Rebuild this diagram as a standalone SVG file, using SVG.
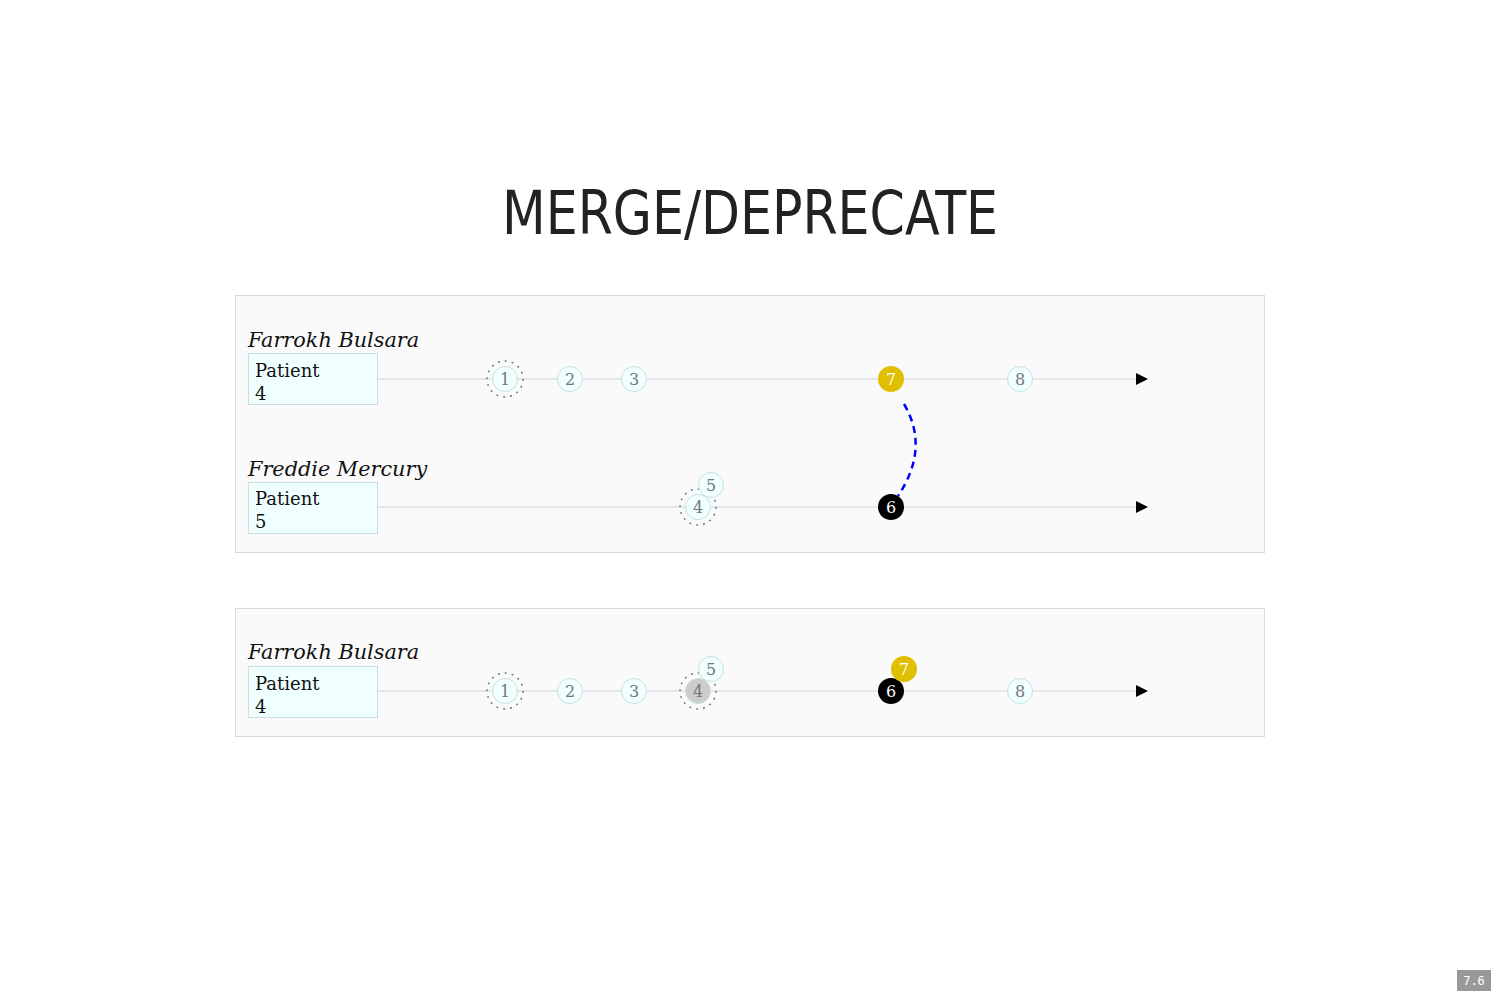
<svg xmlns="http://www.w3.org/2000/svg" width="1500" height="1000" viewBox="0 0 1500 1000">
<defs>
<style>
.panel{fill:#fafafa;stroke:#d9d9d9;stroke-width:1}
.name{font-family:"DejaVu Serif",serif;font-style:italic;font-size:20.8px;fill:#111}
.box{fill:#f0ffff;stroke:#c8dede;stroke-width:1}
.boxt{font-family:"DejaVu Serif",serif;font-size:18px;fill:#111}
.tl{stroke:#d4d4d4;stroke-width:1;fill:none}
.ev{fill:#f0ffff;stroke:#c8e0e0;stroke-width:1}
.evt{font-family:"DejaVu Serif",serif;font-size:16px;fill:#777;text-anchor:middle;dominant-baseline:central}
.ring{fill:none;stroke:#5f7a7a;stroke-width:1.4;stroke-dasharray:2 5}
.white{fill:#fff}
.arr{fill:#000}
</style>
</defs>
<rect width="1500" height="1000" fill="#fff"/>
<text x="750" y="234" text-anchor="middle" font-family="'DejaVu Sans',sans-serif" font-size="60" font-stretch="condensed" fill="#222" textLength="496" lengthAdjust="spacingAndGlyphs">MERGE/DEPRECATE</text>

<rect class="panel" x="235.5" y="295.5" width="1029" height="257"/>
<rect class="panel" x="235.5" y="608.5" width="1029" height="128"/>

<g id="connectors">
<line class="tl" x1="377" y1="379" x2="1138" y2="379"/>
<line class="tl" x1="377" y1="507" x2="1138" y2="507"/>
<line class="tl" x1="377" y1="691" x2="1138" y2="691"/>
<polygon class="arr" points="1136,373 1148,379 1136,385"/>
<polygon class="arr" points="1136,501 1148,507 1136,513"/>
<polygon class="arr" points="1136,685 1148,691 1136,697"/>
<path d="M 904 404 Q 930 448 898 496" fill="none" stroke="#0000ff" stroke-width="2.5" stroke-dasharray="7 5"/>
</g>

<g id="patient-farrokh-1">
<text class="name" x="248" y="347">Farrokh Bulsara</text>
<rect class="box" x="248.5" y="353.5" width="129" height="51"/>
<text class="boxt" x="255" y="377">Patient</text>
<text class="boxt" x="255" y="400">4</text>
</g>
<g id="patient-freddie">
<text class="name" x="248" y="476">Freddie Mercury</text>
<rect class="box" x="248.5" y="482.5" width="129" height="51"/>
<text class="boxt" x="255" y="505">Patient</text>
<text class="boxt" x="255" y="528">5</text>
</g>
<g id="patient-farrokh-2">
<text class="name" x="248" y="659">Farrokh Bulsara</text>
<rect class="box" x="248.5" y="666.5" width="129" height="51"/>
<text class="boxt" x="255" y="690">Patient</text>
<text class="boxt" x="255" y="713">4</text>
</g>

<g id="a-e1"><circle class="ring" cx="505" cy="379" r="18"/><circle class="ev" cx="505" cy="379" r="12.5"/><text class="evt" x="505" y="379">1</text></g>
<g id="a-e2"><circle class="ev" cx="570" cy="379" r="12.5"/><text class="evt" x="570" y="379">2</text></g>
<g id="a-e3"><circle class="ev" cx="634" cy="379" r="12.5"/><text class="evt" x="634" y="379">3</text></g>
<g id="a-e7"><circle cx="891" cy="379" r="13" fill="#e0be00"/><text class="evt white" x="891" y="379">7</text></g>
<g id="a-e8"><circle class="ev" cx="1020" cy="379" r="12.5"/><text class="evt" x="1020" y="379">8</text></g>

<g id="b-e4"><circle class="ring" cx="698" cy="507" r="18"/><circle class="ev" cx="698" cy="507" r="12.5"/><text class="evt" x="698" y="507">4</text></g>
<g id="b-e5"><circle class="ev" cx="711" cy="485" r="12.5"/><text class="evt" x="711" y="485">5</text></g>
<g id="b-e6"><circle cx="891" cy="507" r="13" fill="#000"/><text class="evt white" x="891" y="507">6</text></g>

<g id="c-e1"><circle class="ring" cx="505" cy="691" r="18"/><circle class="ev" cx="505" cy="691" r="12.5"/><text class="evt" x="505" y="691">1</text></g>
<g id="c-e2"><circle class="ev" cx="570" cy="691" r="12.5"/><text class="evt" x="570" y="691">2</text></g>
<g id="c-e3"><circle class="ev" cx="634" cy="691" r="12.5"/><text class="evt" x="634" y="691">3</text></g>
<g id="c-e4"><circle class="ring" cx="698" cy="691" r="18"/><circle cx="698" cy="691" r="12.5" fill="#cccccc" stroke="#c8e0e0"/><text class="evt" x="698" y="691">4</text></g>
<g id="c-e5"><circle class="ev" cx="711" cy="669" r="12.5"/><text class="evt" x="711" y="669">5</text></g>
<g id="c-e6"><circle cx="891" cy="691" r="13" fill="#000"/><text class="evt white" x="891" y="691">6</text></g>
<g id="c-e7"><circle cx="904" cy="669" r="13" fill="#e0be00"/><text class="evt white" x="904" y="669">7</text></g>
<g id="c-e8"><circle class="ev" cx="1020" cy="691" r="12.5"/><text class="evt" x="1020" y="691">8</text></g>

<g id="page-number">
<rect x="1457" y="970" width="34" height="21" fill="#999"/>
<text x="1474" y="985" text-anchor="middle" font-family="'DejaVu Sans Mono',monospace" font-size="12" fill="#fff">7.6</text>
</g>
</svg>
